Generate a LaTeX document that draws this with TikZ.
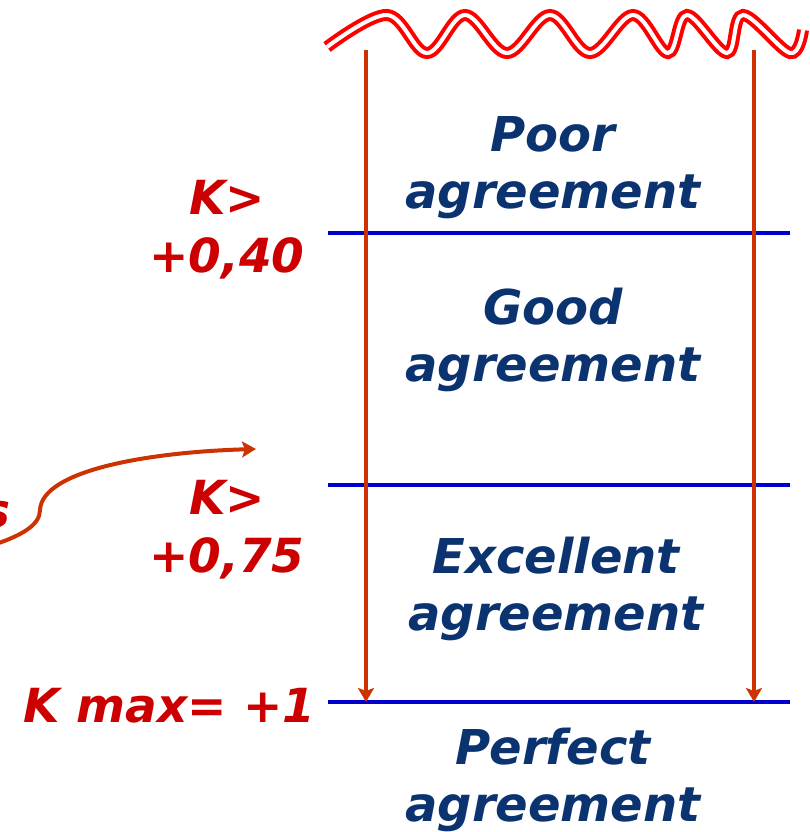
\documentclass[tikz,border=0pt]{standalone}
\usepackage{fontspec}
\setmainfont{DejaVu Sans}
\definecolor{kpnavy}{HTML}{0B3370}
\definecolor{kpred}{HTML}{CC0000}
\definecolor{kparrow}{HTML}{CC3300}
\definecolor{kpblue}{HTML}{0000CC}
\definecolor{kpwave}{HTML}{FF0000}
\usetikzlibrary{arrows.meta,positioning}

\begin{document}
\begin{tikzpicture}[x=0.5pt, y=-0.5pt,
  zone/.style={text=kpnavy, font=\fontsize{24}{28.5}\selectfont\bfseries\itshape,
    align=center, inner sep=0pt},
  lim/.style={text=kpred, font=\fontsize{23.5}{29}\selectfont\bfseries\itshape,
    align=center, inner sep=0pt},
  cut/.style={draw=kpblue, line width=2pt},
  arr/.style={-{Stealth[length=7pt, width=8pt, inset=1.5pt]}, line width=2pt, kparrow}]
\useasboundingbox (0,0) rectangle (810,832);
% the scale
\coordinate (top l) at (366,50);
\coordinate (top r) at (754,50);
\coordinate (c40 l) at (328,233);
\coordinate (c40 r) at (790,233);
\coordinate (c75 l) at (328,485);
\coordinate (c75 r) at (790,485);
\coordinate (max l) at (328,702);
\coordinate (max r) at (790,702);
\draw[kpwave, line width=2pt, double=white, double distance=2pt]
  plot[smooth, tension=0.6] coordinates {(327,47) (387,15) (427,53) (465,15)
  (507,53) (550,15) (590,53) (633,15) (668,53) (687,15) (727,53) (743,15)
  (790,53) (803,30)};
\draw[cut] (c40 l) -- (c40 r);
\draw[cut] (c75 l) -- (c75 r);
\draw[cut] (max l) -- (max r);
\draw[arr] (top l) -- (top l |- max l);
\draw[arr] (top r) -- (top r |- max r);
% zones
\node[zone] (poor) at (553,168) {Poor\\agreement};
\node[zone] (good) at (553,340) {Good\\agreement};
\node[zone] (excel) at (556,589) {Excellent\\agreement};
\node[zone] (perfect) at (553,780) {Perfect\\agreement};
% limits
\node[lim] (k40) at (227,230) {K>\\+0,40};
\node[lim] (k75) at (227,530) {K>\\+0,75};
\node[lim, anchor=east] (kmax) at (316,706) {K max= +1};
\node[lim] (cutoff) at (-4,515) {s};
\coordinate (from) at (-4,544);
\coordinate (to) at (256,449);
\draw[arr] (from) .. controls (22,535) and (40,525) .. (40,510)
  .. controls (42,470) and (150,452) .. (to);
\end{tikzpicture}
\end{document}
